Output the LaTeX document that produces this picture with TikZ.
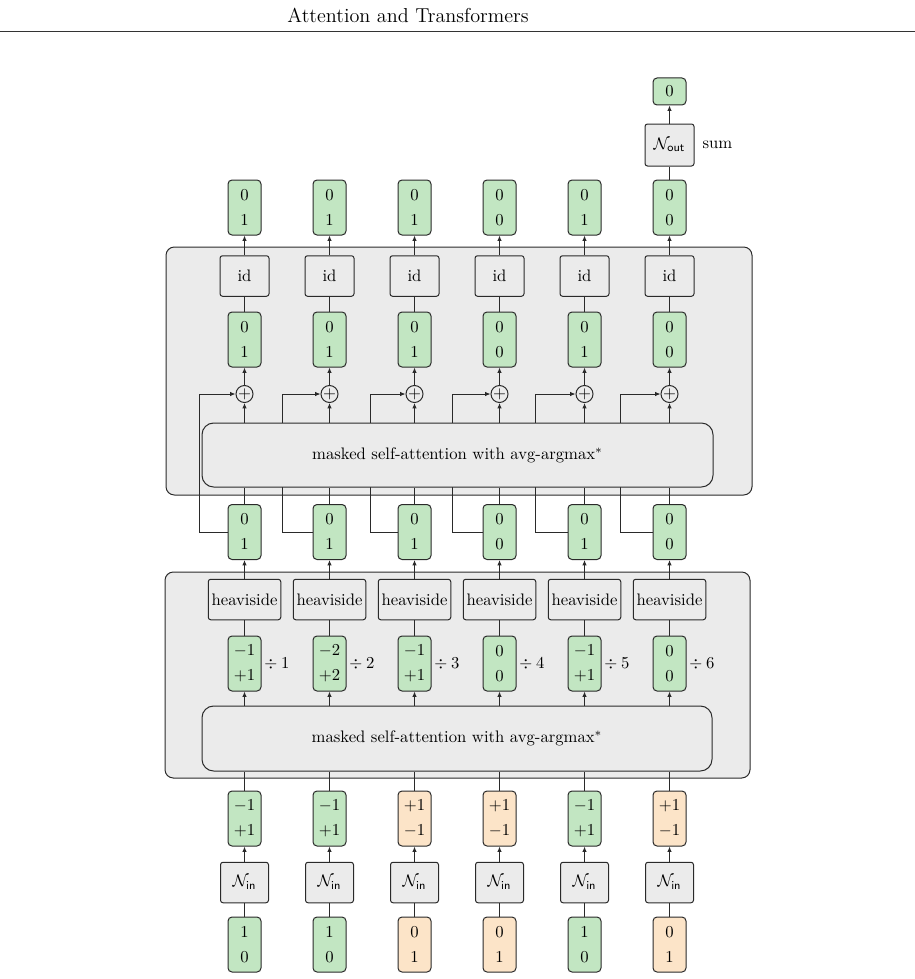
\documentclass[tikz,border=0pt]{standalone}
\usetikzlibrary{arrows.meta}
\definecolor{gfill}{HTML}{C2E6C2}
\definecolor{ofill}{HTML}{FCE4C8}
\definecolor{bgray}{HTML}{EBEBEB}
\definecolor{lcol}{HTML}{2A2A2A}
\begin{document}
\begin{tikzpicture}[x=0.6pt,y=-0.6pt,
  vec/.style={draw=lcol, line width=0.6pt, fill=gfill, rounded corners=2.4pt,
    minimum width=19.8pt, minimum height=33pt, inner sep=0pt, align=center},
  onevec/.style={vec, minimum height=16.2pt},
  gbox/.style={draw=lcol, line width=0.6pt, fill=bgray, rounded corners=1.5pt,
    minimum height=24.3pt, inner sep=2pt},
  idbox/.style={gbox, minimum width=29.4pt},
  nbox/.style={gbox, minimum width=28.8pt},
  layerframe/.style={draw=lcol, line width=0.6pt, fill=bgray, rounded corners=5pt},
  attn/.style={draw=lcol, line width=0.6pt, fill=bgray, rounded corners=7pt},
  plusnode/.style={draw=lcol, line width=0.6pt, circle, fill=bgray, minimum size=10.2pt, inner sep=0pt},
  conn/.style={line width=0.5pt, draw=lcol},
  arr/.style={conn, -{Latex[length=3.2pt,width=2.6pt]}}
]
\useasboundingbox (0,0) rectangle (915,979);

% header
\node[font=\fontsize{12.1}{14.5}\selectfont, anchor=base] (title) at (408,23) {Attention and Transformers};
\coordinate (ruleL) at (0,32);
\coordinate (ruleR) at (915,32);
\draw[line width=0.6pt, draw=black!80] (ruleL) -- (ruleR);

% layer frames
\node[layerframe, minimum width=351.6pt, minimum height=148.8pt] (fr2) at (459,371) {};
\node[layerframe, minimum width=351pt, minimum height=123.6pt] (fr1) at (457.5,675) {};

% columns
\foreach \i/\x/\ya/\yb/\pa/\pb/\ea/\eb/\ecol/\ia/\ib/\bx in {
1/244.5/0/1/-1/+1/-1/+1/gfill/1/0/199,
2/329.5/0/1/-2/+2/-1/+1/gfill/1/0/282,
3/414.5/0/1/-1/+1/+1/-1/ofill/0/1/370,
4/499.5/0/0/0/0/+1/-1/ofill/0/1/452,
5/584.5/0/1/-1/+1/-1/+1/gfill/1/0/535,
6/669.5/0/0/0/0/+1/-1/ofill/0/1/620}{
  \node[vec] (tg\i) at (\x,207.5) {$\ya$\\[3pt]$\yb$};
  \node[idbox] (id\i) at (\x,276) {id};
  \node[vec] (mg\i) at (\x,339.5) {$\ya$\\[3pt]$\yb$};
  \node[plusnode] (pl\i) at (\x,394) {$+$};
  \node[vec] (lo\i) at (\x,532) {$\ya$\\[3pt]$\yb$};
  \node[gbox] (hv\i) at (\x,599.5) {heaviside};
  \node[vec] (pr\i) at (\x,663.5) {$\pa$\\[3pt]$\pb$};
  \node[right, inner sep=1.5pt] (dv\i) at (pr\i.east) {$\div\:\i$};
  \node[vec, fill=\ecol] (em\i) at (\x,818.5) {$\ea$\\[3pt]$\eb$};
  \node[nbox] (ni\i) at (\x,882.5) {$\mathcal{N}_{\mathsf{in}}$};
  \node[vec, fill=\ecol] (in\i) at (\x,944.5) {$\ia$\\[3pt]$\ib$};
  \coordinate (br\i) at (\bx,532);
  \draw[arr] (lo\i.west) -- (br\i) |- (pl\i.west);
}

% output head
\node[nbox, minimum width=29.4pt, minimum height=25.2pt] (nout) at (669.5,145) {$\mathcal{N}_{\mathsf{out}}$};
\node (sum) at (717.5,145) {sum};
\node[onevec] (o0) at (669.5,91.5) {$0$};

% attention blocks
\node[attn, minimum width=306.6pt, minimum height=38.4pt] (at2) at (457.5,455) {masked self-attention with avg-argmax$^*$};
\node[attn, minimum width=306pt, minimum height=39pt] (at1) at (457,738.5) {masked self-attention with avg-argmax$^*$};

% connectors
\foreach \i in {1,...,6}{
  \draw[arr] (id\i) -- (tg\i);
  \draw[conn] (mg\i) -- (id\i);
  \draw[arr] (pl\i) -- (mg\i);
  \draw[arr] (at2.north -| pl\i) -- (pl\i);
  \draw[conn] (lo\i) -- (lo\i |- at2.south);
  \draw[arr] (hv\i) -- (lo\i);
  \draw[conn] (pr\i) -- (hv\i);
  \draw[arr] (at1.north -| pr\i) -- (pr\i);
  \draw[conn] (em\i) -- (em\i |- at1.south);
  \draw[arr] (ni\i) -- (em\i);
  \draw[conn] (in\i) -- (ni\i);
}
\draw[conn] (tg6) -- (nout);
\draw[arr] (nout) -- (o0);
\end{tikzpicture}
\end{document}
